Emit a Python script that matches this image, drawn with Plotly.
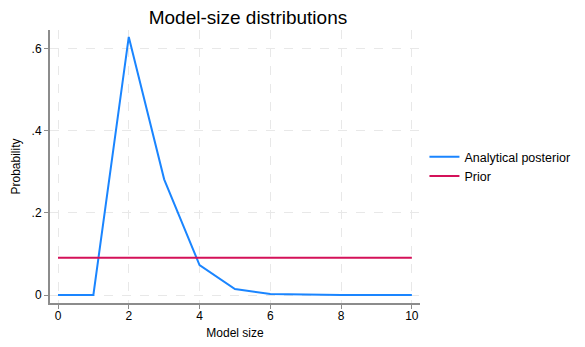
import plotly.graph_objects as go

# Model sizes and their probabilities
model_size = [0, 1, 2, 3, 4, 5, 6, 7, 8, 9, 10]
posterior = [0.0, 0.0003, 0.629, 0.282, 0.073, 0.0145, 0.0025, 0.0005, 0.0001, 0.0, 0.0]
prior = [1 / 11] * 11

y_tickvals = [0, 0.2, 0.4, 0.6]
y_ticktext = ["0", ".2", ".4", ".6"]
x_tickvals = [0, 2, 4, 6, 8, 10]

font_family = "Liberation Sans, Arial, sans-serif"

fig = go.Figure()
fig.add_trace(go.Scatter(x=model_size, y=posterior, mode="lines",
                         name="Analytical posterior",
                         line=dict(color="#1a85ff", width=2)))
fig.add_trace(go.Scatter(x=model_size, y=prior, mode="lines",
                         name="Prior",
                         line=dict(color="#d41159", width=2)))

fig.update_layout(
    width=585, height=347,
    margin=dict(l=50, r=165, t=30, b=44, autoexpand=False),
    paper_bgcolor="white", plot_bgcolor="white",
    font=dict(family=font_family, size=12, color="black"),
    title=dict(text="Model-size distributions", x=0.535, xref="paper",
               xanchor="center", y=0.95, yanchor="middle",
               font=dict(size=19, color="black")),
    legend=dict(x=1.012, xanchor="left", y=0.5, yanchor="middle",
                font=dict(size=12.5), bgcolor="rgba(0,0,0,0)",
                tracegroupgap=0, itemwidth=30),
    xaxis=dict(range=[-0.226, 10.23], tickvals=x_tickvals,
               showline=True, linecolor="#8c8c8c", linewidth=2,
               ticks="outside", ticklen=4, tickcolor="#8c8c8c",
               ticklabelstandoff=-3,
               showgrid=True, gridcolor="#e8e8e8", griddash="dash",
               zeroline=False,
               title=dict(text="Model size", font=dict(size=12), standoff=6)),
    yaxis=dict(range=[-0.0194, 0.646], tickvals=y_tickvals, ticktext=y_ticktext,
               showline=True, linecolor="#8c8c8c", linewidth=2,
               ticks="outside", ticklen=4, tickcolor="#8c8c8c",
               showgrid=True, gridcolor="#e8e8e8", griddash="dash",
               zeroline=False,
               title=dict(text="Probability", font=dict(size=12), standoff=8)),
)

fig.write_html("out.html")
